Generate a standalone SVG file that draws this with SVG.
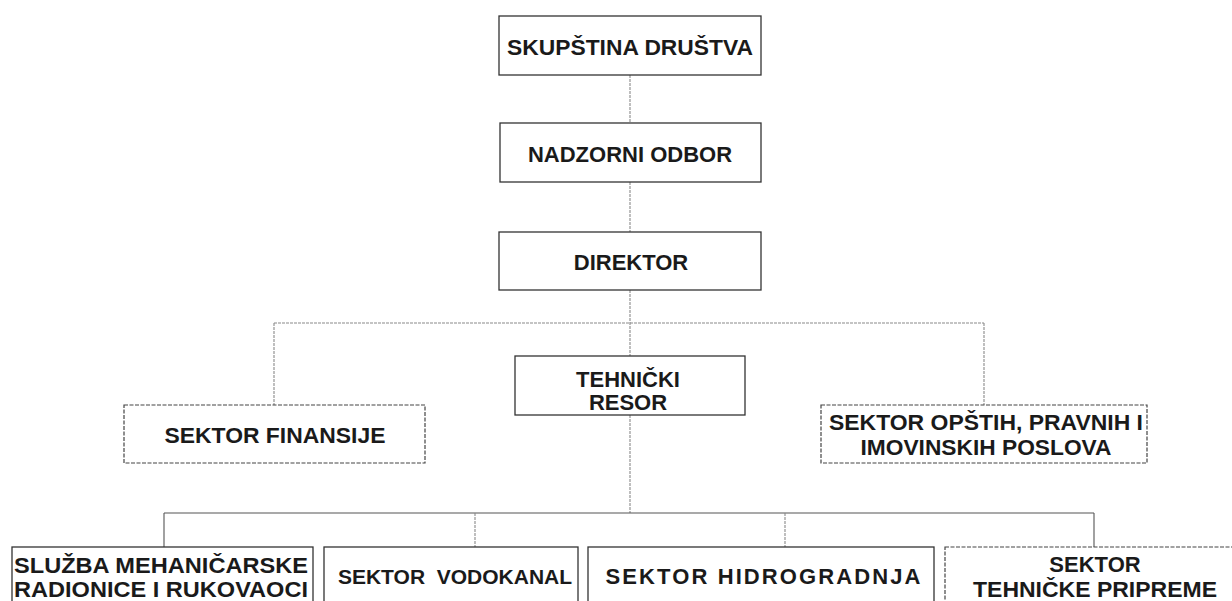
<svg xmlns="http://www.w3.org/2000/svg" width="1232" height="601" viewBox="0 0 1232 601">
<style>
.box{fill:#fff;stroke:#333;stroke-width:1.3}
.dbox{fill:#fff;stroke:#444;stroke-width:1.2;stroke-dasharray:4 1.5}
.t{font-family:"Liberation Sans",Arial,sans-serif;font-weight:bold;font-size:22px;fill:#1a1a1a;text-anchor:middle}
.c{stroke:#8a8a8a;stroke-width:1.1;fill:none;stroke-dasharray:3 1}
.cs{stroke:#555;stroke-width:1.1;fill:none}
</style>
<rect width="1232" height="601" fill="#fff"/>
<g id="connectors">
<line class="c" x1="630" y1="75" x2="630" y2="123"/>
<line class="c" x1="630" y1="182" x2="630" y2="232"/>
<line class="c" x1="630" y1="290" x2="630" y2="356"/>
<line class="c" x1="274" y1="323" x2="984" y2="323"/>
<line class="c" x1="274" y1="323" x2="274" y2="405"/>
<line class="c" x1="984" y1="323" x2="984" y2="405"/>
<line class="c" x1="630" y1="415" x2="630" y2="513"/>
<line class="cs" x1="164" y1="513" x2="1094" y2="513"/>
<line class="cs" x1="164" y1="513" x2="164" y2="547"/>
<line class="c" x1="475" y1="513" x2="475" y2="547"/>
<line class="c" x1="785" y1="513" x2="785" y2="547"/>
<line class="cs" x1="1094" y1="513" x2="1094" y2="547"/>
</g>
<g id="skupstina">
<rect class="box" x="499" y="16" width="262" height="59"/>
<text class="t" x="630" y="55" textLength="246" lengthAdjust="spacingAndGlyphs">SKUPŠTINA DRUŠTVA</text>
</g>
<g id="nadzorni">
<rect class="box" x="500" y="123" width="261" height="59"/>
<text class="t" x="630" y="162">NADZORNI ODBOR</text>
</g>
<g id="direktor">
<rect class="box" x="499" y="232" width="262" height="58"/>
<text class="t" x="631" y="270">DIREKTOR</text>
</g>
<g id="tehnicki">
<rect class="box" x="515" y="356" width="230" height="59"/>
<text class="t" x="628" y="387">TEHNIČKI</text>
<text class="t" x="628" y="410">RESOR</text>
</g>
<g id="finansije">
<rect class="dbox" x="124" y="405" width="301" height="58"/>
<text class="t" x="275" y="443" textLength="221" lengthAdjust="spacingAndGlyphs">SEKTOR FINANSIJE</text>
</g>
<g id="opstih">
<rect class="dbox" x="821" y="405" width="326" height="58"/>
<text class="t" x="986" y="430" textLength="314" lengthAdjust="spacingAndGlyphs">SEKTOR OPŠTIH, PRAVNIH I</text>
<text class="t" x="986" y="455" textLength="251" lengthAdjust="spacingAndGlyphs">IMOVINSKIH POSLOVA</text>
</g>
<g id="sluzba">
<rect class="box" x="12" y="547" width="301" height="70"/>
<text class="t" x="161" y="573" textLength="294" lengthAdjust="spacingAndGlyphs">SLUŽBA MEHANIČARSKE</text>
<text class="t" x="161" y="597" textLength="294" lengthAdjust="spacingAndGlyphs">RADIONICE I RUKOVAOCI</text>
</g>
<g id="vodokanal">
<rect class="box" x="324" y="547" width="254" height="70"/>
<text class="t" x="455" y="584" xml:space="preserve" style="font-size:21px">SEKTOR  VODOKANAL</text>
</g>
<g id="hidrogradnja">
<rect class="box" x="588" y="547" width="346" height="70"/>
<text class="t" x="763" y="584" textLength="315" lengthAdjust="spacing">SEKTOR HIDROGRADNJA</text>
</g>
<g id="tehnicke">
<rect class="dbox" x="945" y="547" width="300" height="70"/>
<text class="t" x="1095" y="572">SEKTOR</text>
<text class="t" x="1095" y="597" textLength="244" lengthAdjust="spacingAndGlyphs">TEHNIČKE PRIPREME</text>
</g>
</svg>
